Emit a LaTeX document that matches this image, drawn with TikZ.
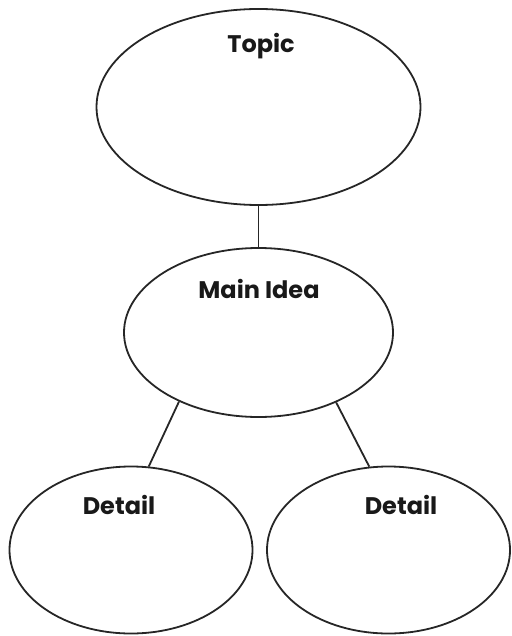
\documentclass[tikz,border=0pt]{standalone}
\usepackage{fontspec}
\setmainfont{Poppins}
\usetikzlibrary{shapes.geometric}
\begin{document}
\begin{tikzpicture}[x=1pt,y=-1pt,
  bubble/.style={draw=black!85,line width=1.8pt,ellipse,inner sep=0pt},
  link/.style={draw=black!85,line width=1.8pt},
  lbl/.style={font=\fontsize{24}{27}\selectfont\bfseries,text=black!90,inner sep=0pt}]
\useasboundingbox (0,0) rectangle (511,636);
\node[bubble,minimum width=324pt,minimum height=196pt] (topic) at (258.5,107) {};
\node[bubble,minimum width=269pt,minimum height=169pt] (main) at (258.5,332.5) {};
\node[bubble,minimum width=243pt,minimum height=167pt] (d1) at (131,550) {};
\node[bubble,minimum width=243pt,minimum height=167pt] (d2) at (388.5,550) {};
\node[lbl] (t1) at (261,46) {Topic};
\node[lbl] (t2) at (259,289) {Main Idea};
\node[lbl] (t3) at (119,505) {Detail};
\node[lbl] (t4) at (401,505) {Detail};
\draw[link] (topic.south) -- (main.north);
\draw[link] (main.221.5) -- (d1.78.4);
\draw[link] (main.318.1) -- (d2.103.2);
\end{tikzpicture}
\end{document}
